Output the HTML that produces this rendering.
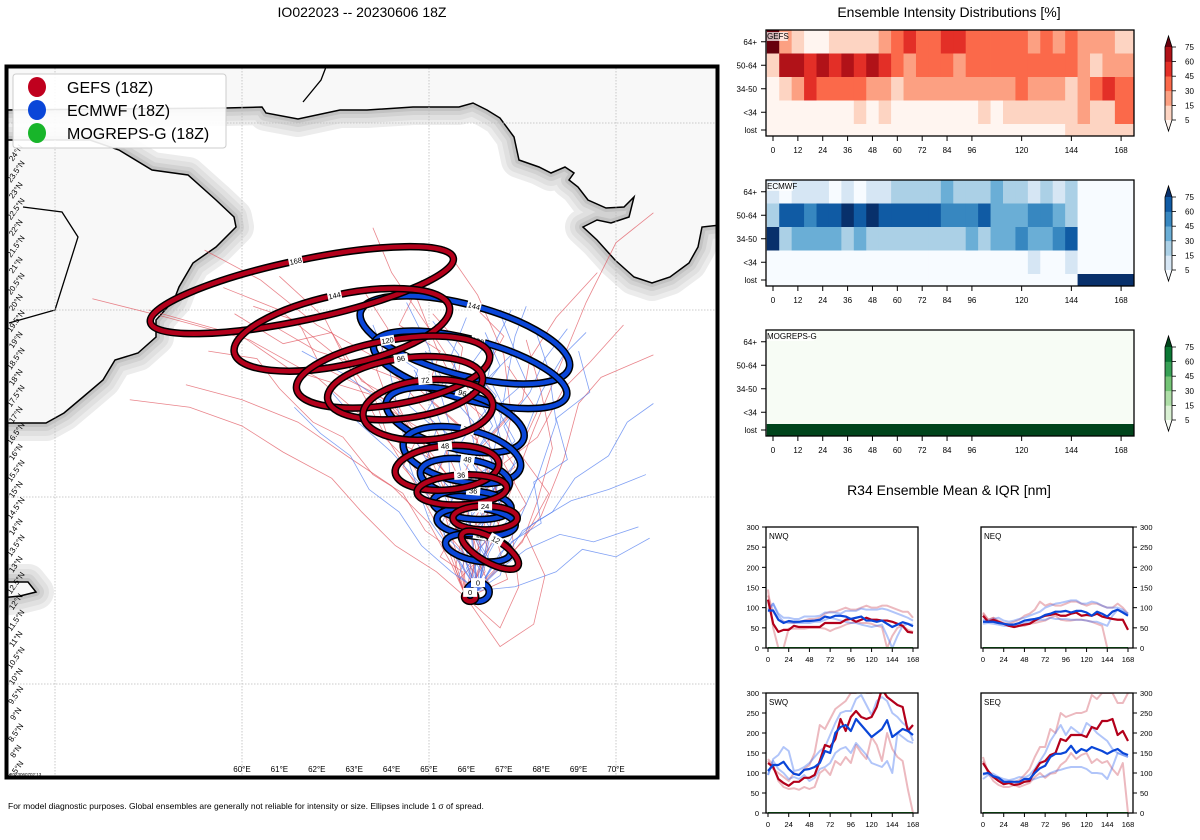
<!DOCTYPE html>
<html><head><meta charset="utf-8"><style>
html,body{margin:0;padding:0;background:#fff;}
svg{display:block;font-family:"Liberation Sans","DejaVu Sans",sans-serif;}
</style></head><body>
<svg id="root" width="1200" height="840" viewBox="0 0 1200 840" xmlns="http://www.w3.org/2000/svg">
<text x="362" y="17" font-size="14" text-anchor="middle">IO022023 -- 20230606 18Z</text>
<text x="949" y="17" font-size="14" text-anchor="middle">Ensemble Intensity Distributions [%]</text>
<text x="949" y="495" font-size="14" text-anchor="middle">R34 Ensemble Mean &amp; IQR [nm]</text>
<text x="8" y="809" font-size="8.5">For model diagnostic purposes. Global ensembles are generally not reliable for intensity or size. Ellipses include 1 σ of spread.</text>
<g id="map"></g>
<g id="heat"></g>
<g id="r34"></g>
</svg>
<script>
const NS='http://www.w3.org/2000/svg';
function mk(tag,attrs,parent,txt){const e=document.createElementNS(NS,tag);for(const k in attrs)e.setAttribute(k,attrs[k]);if(txt!==undefined)e.textContent=txt;parent.appendChild(e);return e;}

/* ================= MAP DATA ================= */
const gefsTracks=[
 [[66.0,12.3],[65.8,13.3],[65.4,14.6],[64.6,15.8],[63.4,17.0],[62.0,18.2],[60.2,19.2],[58.0,19.8],[56.0,20.3]],
 [[66.0,12.3],[66.3,13.4],[66.0,14.8],[65.2,16.0],[64.0,17.4],[62.5,18.8],[61.0,20.0],[59.5,20.6]],
 [[66.0,12.3],[66.5,13.5],[66.8,15.0],[66.6,16.5],[66.0,18.0],[65.0,19.5],[64.0,21.0],[63.5,22.2]],
 [[66.0,12.3],[66.6,13.6],[67.2,15.2],[67.8,16.8],[68.5,18.5],[69.2,20.2],[70.0,21.8],[71.0,22.6]],
 [[66.0,12.3],[65.6,13.2],[65.0,14.3],[64.0,15.3],[62.8,16.1],[61.5,17.0],[60.0,17.6],[58.5,18.0]],
 [[66.0,12.3],[66.2,13.8],[65.8,15.5],[65.0,17.2],[63.8,18.6],[62.0,19.6],[60.5,20.8],[59.0,21.6]],
 [[66.0,12.3],[67.0,13.2],[68.0,14.5],[68.6,16.0],[69.0,17.5],[69.6,18.2],[71.0,18.8]],
 [[66.0,12.3],[66.4,14.0],[66.9,15.6],[67.2,17.2],[67.0,18.8],[66.3,20.4],[65.4,21.7]],
 [[66.0,12.3],[65.9,13.5],[65.5,15.0],[64.8,16.6],[63.9,17.6],[62.6,18.0],[61.3,18.4],[60.0,19.3],[57.5,20.0]],
 [[66.0,12.3],[66.7,13.0],[67.5,13.8],[67.9,14.9],[68.3,16.3],[68.0,17.8],[67.6,19.2]],
 [[66.0,12.3],[65.4,13.9],[64.6,15.4],[63.8,16.7],[63.0,18.2],[62.2,19.8],[61.0,20.9]],
 [[66.0,12.3],[66.9,11.5],[67.4,12.6],[67.2,14.2],[66.5,15.9],[65.9,17.6],[65.2,19.0],[64.6,20.5]],
 [[66.0,12.3],[65.7,13.1],[65.9,14.0],[65.2,14.7],[65.5,15.6],[64.7,16.4],[64.1,17.6],[63.2,18.1],[62.4,19.4],[61.1,19.1],[59.8,19.9]],
 [[66.0,12.3],[66.2,13.2],[65.6,13.9],[66.1,14.9],[65.3,15.8],[65.8,16.9],[64.9,17.7],[65.3,18.9],[64.2,19.6],[64.8,20.8]],
 [[66.0,12.3],[66.5,13.0],[66.2,14.1],[66.9,15.0],[66.3,16.2],[67.1,17.1],[66.4,18.2],[67.0,19.3],[66.2,20.1]],
 [[66.0,12.3],[65.2,13.0],[64.1,13.7],[63.2,14.6],[62.4,15.5],[61.1,16.2],[60.0,16.9],[58.6,17.4],[57.0,17.6]],
 [[66.0,12.3],[66.3,12.9],[65.5,13.8],[65.9,14.5],[64.8,15.2],[65.1,16.0],[63.9,16.6],[63.5,17.8],[62.1,18.5],[61.5,19.7],[60.3,20.1]],
 [[66.0,12.3],[67.1,12.8],[66.8,13.9],[67.6,14.8],[67.0,15.9],[67.9,16.6],[68.6,17.9],[69.3,18.6],[70.2,19.6]],
 [[66.0,12.3],[66.4,13.1],[66.0,13.9],[66.6,14.8],[65.9,15.5],[66.3,16.5],[65.5,17.2],[64.6,18.0],[63.3,18.5],[62.0,18.9],[60.8,19.6]],
 [[66.0,12.3],[65.8,12.8],[66.6,13.6],[66.2,14.4],[66.8,15.3],[66.1,16.0],[66.5,17.1],[65.7,17.8],[65.9,19.0],[65.1,19.9]],
 [[66.0,12.3],[66.9,11.0],[67.8,11.6],[68.1,12.9],[67.6,14.0],[68.2,15.1],[67.4,16.2],[67.9,17.3],[67.1,18.5]],
 [[66.0,12.3],[65.6,13.6],[64.9,14.1],[64.3,15.1],[63.5,15.6],[62.7,16.6],[61.9,17.0],[61.0,17.9],[60.4,18.7],[59.1,18.9]],
 [[66.0,12.3],[66.6,12.7],[66.2,13.5],[66.9,14.2],[66.4,15.1],[67.3,15.8],[66.7,16.7],[67.5,17.6],[67.7,18.7],[68.4,19.8],[69.5,21.0]],
 [[66.0,12.3],[65.9,13.0],[65.3,13.4],[65.8,14.3],[65.0,15.0],[64.3,15.8],[64.8,16.8],[64.0,17.3],[63.6,18.4],[63.9,19.5],[63.2,20.6]]
];
const ecmwfTracks=[
 [[66.3,12.5],[66.2,13.6],[66.0,15.0],[65.7,16.4],[65.3,17.8],[65.0,19.0],[64.4,20.2]],
 [[66.3,12.5],[66.6,13.8],[67.0,15.2],[67.5,16.5],[68.0,17.8],[68.6,18.8],[69.2,19.4]],
 [[66.3,12.5],[65.9,13.9],[65.3,15.3],[64.6,16.6],[63.7,17.6],[62.7,18.3],[61.6,18.9]],
 [[66.3,12.5],[66.9,13.5],[67.8,14.3],[68.8,14.9],[69.8,15.2],[70.8,15.6]],
 [[66.3,12.5],[66.4,14.0],[66.6,15.6],[66.9,17.0],[67.1,18.2],[67.3,19.3],[67.6,20.1]],
 [[66.3,12.5],[65.7,13.4],[65.0,14.4],[64.5,15.8],[64.2,17.2],[63.9,18.6],[63.5,19.6]],
 [[66.3,12.5],[66.8,13.0],[67.6,13.6],[68.5,14.0],[69.4,13.8],[70.6,14.2]],
 [[66.3,12.5],[66.1,14.2],[66.3,15.9],[66.0,17.5],[65.6,18.8],[66.0,19.8]],
 [[66.3,12.5],[67.2,13.9],[67.9,15.5],[68.4,17.0],[68.2,18.4],[67.8,19.6]],
 [[66.3,12.5],[65.5,13.8],[64.9,15.2],[64.0,16.2],[63.1,17.0],[62.4,17.8]],
 [[66.3,12.5],[66.7,14.6],[67.0,16.3],[66.5,17.9],[66.8,19.2],[67.2,20.0]],
 [[66.3,12.5],[66.0,13.2],[65.6,14.8],[65.5,16.5],[65.1,17.5],[64.6,18.4]],
 [[66.3,12.5],[66.0,13.1],[66.5,13.8],[65.8,14.6],[66.4,15.3],[65.7,16.2],[66.2,17.0],[65.4,17.9],[65.8,18.8],[65.1,19.7]],
 [[66.3,12.5],[66.7,13.2],[66.2,14.0],[66.9,14.8],[66.5,15.7],[67.3,16.5],[66.8,17.4],[67.6,18.1],[67.2,19.0]],
 [[66.3,12.5],[65.8,12.9],[66.1,13.7],[65.3,14.2],[65.7,15.1],[64.9,15.9],[65.2,16.8],[64.4,17.5],[64.7,18.4],[63.8,19.0]],
 [[66.3,12.5],[66.9,12.9],[67.2,13.8],[68.0,14.3],[67.8,15.4],[68.7,16.0],[68.4,17.1],[69.3,17.8],[69.0,18.9]],
 [[66.3,12.5],[66.5,13.4],[66.0,14.3],[66.6,15.1],[66.1,16.0],[66.7,16.9],[66.3,17.7],[66.9,18.5],[66.5,19.4]],
 [[66.3,12.5],[65.9,13.5],[65.4,14.0],[65.9,14.9],[65.2,15.6],[65.6,16.6],[64.9,17.2],[65.4,18.1],[64.9,18.9]],
 [[66.3,12.5],[67.0,13.3],[67.5,14.1],[68.3,14.6],[68.9,15.5],[69.8,16.1],[70.3,17.0],[71.0,17.5]],
 [[66.3,12.5],[66.2,13.1],[66.8,13.9],[66.3,14.7],[67.0,15.5],[66.4,16.4],[67.1,17.2],[66.6,18.2],[67.3,18.9],[66.9,19.9]],
 [[66.3,12.5],[65.6,13.0],[64.8,13.7],[64.2,14.6],[63.4,15.2],[62.9,16.1],[62.1,16.7],[61.4,17.4]],
 [[66.3,12.5],[66.4,13.0],[65.9,13.8],[66.6,14.5],[66.0,15.4],[66.9,16.0],[66.2,16.9],[66.8,17.7],[66.1,18.5],[66.6,19.2]],
 [[66.3,12.5],[67.3,12.6],[68.4,13.0],[69.1,13.6],[70.0,13.4],[70.9,13.9]],
 [[66.3,12.5],[66.6,13.5],[67.1,14.4],[66.7,15.2],[67.4,16.0],[67.0,16.9],[67.7,17.8],[68.1,18.7],[68.7,19.5]]
];
const gefsEllLabel=[168,144,120,96,72,48,36,24,12,0];
const gefsEllLon=[61.60,62.67,64.04,64.36,64.97,65.48,65.88,66.50,66.63,66.10];
const gefsEllLat=[20.53,19.47,18.34,17.91,17.33,15.78,15.19,14.44,13.58,12.33];
const gefsEllA=[4.14,2.94,2.62,2.09,1.74,1.39,1.20,0.86,0.86,0.15];
const gefsEllB=[0.80,0.94,0.86,0.80,0.80,0.59,0.40,0.32,0.32,0.12];
const gefsEllRot=[-12,-12,-10,-8,-5,-5,-3,0,30,0];
const ecEllLabel=[144,120,96,72,48,36,24,12,0];
const ecEllLon=[65.96,66.10,65.70,65.88,65.96,66.15,66.26,66.31,66.31];
const ecEllLat=[19.20,18.40,17.06,16.12,15.51,14.79,14.33,13.64,12.46];
const ecEllA=[2.89,2.67,1.90,1.60,1.20,1.05,1.05,0.88,0.30];
const ecEllB=[0.94,0.80,0.75,0.70,0.50,0.38,0.38,0.35,0.25];
const ecEllRot=[15,15,15,12,8,5,5,10,0];

/* ================= HEATMAP DATA ================= */
const hmRows=['64+','50-64','34-50','<34','lost'];
const hmHours=[0,6,12,18,24,30,36,42,48,54,60,66,72,78,84,90,96,102,108,114,120,126,132,138,144,150,156,162,168];
const hmTicks=[0,12,24,36,48,60,72,84,96,120,144,168];
const cbTicks=[75,60,45,30,15,5];
const gefsLev=[
 [6,2,1,0,0,1,1,1,1,2,3,4,3,3,4,4,3,3,3,3,3,2,3,2,3,2,2,2,1],
 [1,5,5,4,5,4,5,4,5,4,3,2,3,3,3,2,3,3,3,3,3,3,3,3,3,2,1,2,2],
 [0,1,2,4,3,3,3,3,2,2,1,2,2,2,2,2,2,2,2,2,3,2,2,2,1,2,3,4,3],
 [0,0,0,0,0,0,0,1,0,1,0,0,0,0,0,0,0,1,0,1,1,1,1,1,1,2,1,1,3],
 [0,0,0,0,0,0,0,0,0,0,0,0,0,0,0,0,0,0,0,0,0,0,0,0,1,1,1,1,1]];
const ecLev=[
 [1,0,1,1,1,0,1,0,1,1,2,2,2,2,3,2,2,2,3,2,2,1,2,1,2,0,0,0,0],
 [2,5,5,4,5,5,6,5,6,5,5,5,5,5,4,4,4,5,3,3,3,4,4,3,2,0,0,0,0],
 [6,2,3,3,3,3,2,3,2,2,2,2,2,2,2,2,3,2,3,3,4,3,3,4,5,0,0,0,0],
 [0,0,0,0,0,0,0,0,0,0,0,0,0,0,0,0,0,0,0,0,0,1,0,0,1,0,0,0,0],
 [0,0,0,0,0,0,0,0,0,0,0,0,0,0,0,0,0,0,0,0,0,0,0,0,0,6,6,6,6]];
const mogLev=[
 [0,0,0,0,0,0,0,0,0,0,0,0,0,0,0,0,0,0,0,0,0,0,0,0,0,0,0,0,0],
 [0,0,0,0,0,0,0,0,0,0,0,0,0,0,0,0,0,0,0,0,0,0,0,0,0,0,0,0,0],
 [0,0,0,0,0,0,0,0,0,0,0,0,0,0,0,0,0,0,0,0,0,0,0,0,0,0,0,0,0],
 [0,0,0,0,0,0,0,0,0,0,0,0,0,0,0,0,0,0,0,0,0,0,0,0,0,0,0,0,0],
 [6,6,6,6,6,6,6,6,6,6,6,6,6,6,6,6,6,6,6,6,6,6,6,6,6,6,6,6,6]];

/* ================= R34 DATA ================= */
const r34Hours=[0,6,12,18,24,30,36,42,48,54,60,66,72,78,84,90,96,102,108,114,120,126,132,138,144,150,156,162,168];
const r34Ticks=[0,24,48,72,96,120,144,168];
const r34YTicks=[0,50,100,150,200,250,300];
const nwqGefsMean=[120,60,40,45,45,55,52,52,52,52,52,62,62,62,62,70,72,65,70,75,70,70,68,68,65,60,55,40,38];
const nwqEcMean=[93,93,70,62,67,65,65,67,67,68,70,78,75,80,80,78,72,75,78,68,68,65,68,60,52,58,64,60,54];
const nwqGefsLo=[145,50,0,0,48,48,48,48,50,50,50,48,42,48,52,58,62,65,62,62,60,55,52,0,30,50,55,45,40];
const nwqGefsHi=[130,90,70,65,65,62,65,68,72,72,75,85,90,90,95,100,95,95,100,105,100,100,105,105,100,95,90,90,75];
const nwqEcLo=[90,110,80,65,62,62,62,62,62,65,65,70,75,72,68,65,62,62,58,55,52,55,58,30,0,30,55,60,58];
const nwqEcHi=[95,110,85,75,75,72,72,78,78,78,80,88,88,88,85,92,92,92,98,95,95,95,98,95,90,85,80,75,68];
const neqGefsMean=[80,65,70,65,60,55,52,55,58,60,68,75,80,82,85,80,80,85,88,80,82,80,85,78,75,72,70,70,45];
const neqEcMean=[65,65,65,62,60,58,58,62,68,70,72,75,82,85,90,90,92,88,92,92,88,80,90,85,78,90,95,88,80];
const neqGefsLo=[85,70,75,65,60,55,52,55,55,60,62,65,68,75,80,70,68,68,70,70,68,65,60,55,0,0,0,0,0];
const neqGefsHi=[88,70,75,68,62,60,65,70,80,85,95,115,105,110,105,105,110,115,115,110,105,110,110,105,100,100,110,100,85];
const neqEcLo=[60,62,60,58,55,55,55,60,62,65,68,70,70,75,72,72,72,70,70,70,68,65,65,60,55,80,95,90,85];
const neqEcHi=[70,68,72,75,68,65,68,72,75,80,85,90,100,105,110,112,115,118,118,110,110,115,112,105,100,100,100,95,85];
const swqGefsMean=[125,115,85,75,68,78,78,88,88,95,130,170,165,185,235,205,240,255,240,235,240,265,310,290,280,270,265,205,220];
const swqEcMean=[105,120,120,128,110,98,95,108,110,115,125,155,150,200,215,220,205,235,220,205,190,200,210,232,190,200,210,205,195];
const swqGefsLo=[135,120,80,65,60,62,58,65,60,65,100,110,95,130,120,140,125,170,150,135,190,170,130,200,160,140,130,60,0];
const swqGefsHi=[130,110,100,90,80,100,95,110,120,150,220,210,235,260,270,280,300,300,310,300,300,310,310,310,310,310,310,310,300];
const swqEcLo=[95,130,110,100,85,90,85,95,80,88,110,115,125,150,160,165,150,175,160,145,125,120,115,130,100,200,190,180,175];
const swqEcHi=[95,135,145,165,155,105,108,115,125,140,155,165,195,225,250,255,255,285,295,270,245,280,290,280,250,240,225,215,180];
const seqGefsMean=[125,105,90,80,72,75,70,72,78,80,105,125,130,145,150,185,180,195,195,195,190,215,210,230,230,235,195,205,180];
const seqEcMean=[98,100,92,88,78,78,78,78,85,85,100,112,118,140,148,148,152,168,150,160,155,165,160,155,148,155,160,150,145];
const seqGefsLo=[140,100,80,70,65,65,70,65,70,75,90,100,88,98,100,120,130,150,135,145,150,125,135,125,130,110,95,125,0];
const seqGefsHi=[130,100,90,85,75,80,78,82,95,110,140,165,165,210,200,250,240,245,250,250,255,295,285,300,300,300,275,275,300];
const seqEcLo=[85,95,90,85,80,75,72,75,78,82,85,90,92,100,105,108,112,115,115,115,110,100,100,98,85,115,150,145,140];
const seqEcHi=[95,100,98,90,85,82,85,90,88,95,110,130,150,180,200,220,195,215,205,195,225,215,200,190,180,160,150,145,140];

/* ================= MAP ================= */
const map=document.getElementById('map');
const px=lon=>242+(lon-60)*37.4;
const py=lat=>497-(lat-15)*37.4;
const defs=mk('defs',{},map);
const cp=mk('clipPath',{id:'mapclip'},defs);
mk('rect',{x:5,y:65,width:713,height:713},cp);
const mg=mk('g',{'clip-path':'url(#mapclip)'},map);
mk('rect',{x:5,y:65,width:713,height:713,fill:'#fff'},mg);
const landTop=[[5,65],[720,65],[720,225],[702,227],[698,247],[689,263],[670,277],[652,283],[634,277],[615,260],[597,240],[583,227],[597,220],[611,223],[629,217],[634,197],[624,207],[606,208],[588,200],[578,187],[569,180],[574,173],[565,167],[551,173],[539,167],[519,160],[514,137],[500,118],[487,110],[473,103],[459,107],[413,107],[367,110],[340,110],[298,119],[266,113],[262,107],[225,108],[5,110]];
const landOman=[[0,140],[90,140],[119,150],[152,170],[188,175],[216,200],[234,217],[236,227],[216,247],[193,263],[179,287],[174,300],[156,320],[156,337],[138,353],[115,360],[103,380],[83,397],[64,413],[46,423],[0,423]];
const landSom=[[0,582],[28,582],[36,592],[20,596],[0,598]];
const lands=[landTop,landOman,landSom];
const ptsStr=a=>a.map(p=>p.join(',')).join(' ');
[[36,'#ececec'],[26,'#e0e0e0'],[16,'#d2d2d2'],[8,'#c2c2c2']].forEach(([w,c])=>{
 lands.forEach(l=>{const e=mk('polygon',{points:ptsStr(l),fill:'none',stroke:c,'stroke-width':w,'stroke-linejoin':'round'},mg);
 
 });
});
lands.forEach((l,i)=>{const e=mk('polygon',{points:ptsStr(l),fill:'#f8f8f8',stroke:'#000','stroke-width':1.5},mg);
 
 });
[[[303,102],[321,80],[326,67]],[[23,207],[62,212],[78,237],[55,310],[9,323]]].forEach(b=>{
 const e=mk('polyline',{points:ptsStr(b),fill:'none',stroke:'#000','stroke-width':1.3},mg);
 
 });
[55,60,65,70].forEach(l=>{const e=mk('line',{x1:px(l),x2:px(l),y1:65,y2:778,stroke:'#bbb','stroke-width':0.8,'stroke-dasharray':'1.5,1.5'},mg);
 
 });
[10,15,20,25].forEach(l=>{const e=mk('line',{x1:5,x2:718,y1:py(l),y2:py(l),stroke:'#bbb','stroke-width':0.8,'stroke-dasharray':'1.5,1.5'},mg);
 
 });
function drawTracks(tracks,col,name){tracks.forEach(t=>{
 const e=mk('polyline',{points:t.map(p=>px(p[0])+','+py(p[1])).join(' '),fill:'none',stroke:col,'stroke-width':0.8,'stroke-opacity':0.7},mg);
 
 });}
drawTracks(gefsTracks,'#e0505a','gefs-member-track');
drawTracks(ecmwfTracks,'#4a78f0','ecmwf-member-track');
function drawEll(lon,lat,a,b,rot,lab,col,name){
 const cx=px(lon),cy=py(lat),rx=a*37.4,ry=b*37.4;
 const g=mk('g',{transform:`rotate(${rot} ${cx} ${cy})`},mg);
 
 
 mk('ellipse',{cx,cy,rx,ry,fill:'none',stroke:'#000','stroke-width':7.5},g);
 mk('ellipse',{cx,cy,rx,ry,fill:'none',stroke:col,'stroke-width':4.5},g);
 const lx=cx, ly=cy-ry;
 mk('rect',{x:lx-7,y:ly-4.5,width:14,height:9,fill:'#fff'},g);
 mk('text',{x:lx,y:ly+2.8,'font-size':7.5,'text-anchor':'middle'},g,String(lab));
}
ecEllLabel.forEach((h,i)=>drawEll(ecEllLon[i],ecEllLat[i],ecEllA[i],ecEllB[i],ecEllRot[i],h,'#0a46d8','ecmwf-ellipse-'+h));
gefsEllLabel.forEach((h,i)=>drawEll(gefsEllLon[i],gefsEllLat[i],gefsEllA[i],gefsEllB[i],gefsEllRot[i],h,'#b3001b','gefs-ellipse-'+h));
for(let l=60;l<=70;l++){const e=mk('text',{x:px(l),y:772,'font-size':8,'text-anchor':'middle'},mg,l+'°E');
 
 }
for(let l=7.5;l<=24;l+=0.5){const y=py(l)-6;const e=mk('text',{x:18,y:y,'font-size':8,'text-anchor':'middle',transform:`rotate(-55 18 ${y})`},mg,l+'°N');
 
 }
mk('text',{x:10,y:776,'font-size':4.5},mg,'2023060702:13');
const lg=mk('g',{},mg);


mk('rect',{x:13,y:74,width:213,height:74,rx:3,fill:'#fff','fill-opacity':0.9,stroke:'#ccc'},lg);
[['GEFS (18Z)','#c0001e'],['ECMWF (18Z)','#0a46d8'],['MOGREPS-G (18Z)','#18b52a']].forEach(([t,c],i)=>{
 const y=87+i*23;
 const en=mk('g',{},lg);
 
 
 mk('ellipse',{cx:37,cy:y,rx:9,ry:10,fill:c},en);
 mk('text',{x:67,y:y+6,'font-size':16},en,t);
});
const fr=mk('rect',{x:6.5,y:66.5,width:711,height:711,fill:'none',stroke:'#000','stroke-width':4},map);



/* ================= HEATMAPS ================= */
const heat=document.getElementById('heat');
const reds=['#fff5f0','#fdd4c2','#fca082','#fb694a','#e32f27','#b11218','#67000d'];
const blues=['#f7fbff','#d6e6f4','#abd0e6','#6aaed6','#3787c0','#105ba4','#08306b'];
const greens=['#f7fcf5','#d9f0d3','#aedea7','#74c476','#37a055','#0b7734','#00441b'];
const hx=h=>773+h*2.072;
function heatmap(y0,lev,pal,name,label){
 const g=mk('g',{},heat);
 
 
 const rowY=[0,23.5,47,70.5,94,106];
 hmRows.forEach((r,ri)=>{
  hmHours.forEach((h,ci)=>{
   const x0=Math.max(766,hx(h-3)), x1=(ci===hmHours.length-1)?1134:hx(h+3);
   const c=mk('rect',{x:x0,y:y0+rowY[ri],width:x1-x0+0.4,height:rowY[ri+1]-rowY[ri]+0.4,fill:pal[lev[ri][ci]]},g);
   
   
  });
  const yc=y0+(rowY[ri]+rowY[ri+1])/2;
  mk('line',{x1:761,x2:766,y1:yc,y2:yc,stroke:'#000'},g);
  mk('text',{x:757,y:yc+3,'font-size':8,'text-anchor':'end'},g,r);
 });
 mk('rect',{x:766,y:y0,width:368,height:106,fill:'none',stroke:'#000','stroke-width':1.3},g);
 hmTicks.forEach(t=>{mk('line',{x1:hx(t),x2:hx(t),y1:y0+106,y2:y0+111,stroke:'#000'},g);
  mk('text',{x:hx(t),y:y0+123,'font-size':8,'text-anchor':'middle'},g,String(t));});
 mk('rect',{x:767,y:y0+2,width:label.length*5.2,height:9,fill:'#fff','fill-opacity':0.7},g);
 mk('text',{x:767,y:y0+9,'font-size':8},g,label);
 const cb=mk('g',{},g);
 
 
 const top=y0+17, bot=y0+90, step=(bot-top)/5;
 for(let i=0;i<5;i++) mk('rect',{x:1165,y:bot-(i+1)*step,width:7,height:step+0.3,fill:pal[i+1]},cb);
 mk('polygon',{points:`1165,${top} 1172,${top} 1168.5,${top-11}`,fill:pal[6]},cb);
 mk('polygon',{points:`1165,${bot} 1172,${bot} 1168.5,${bot+11}`,fill:pal[0]},cb);
 mk('polygon',{points:`1165,${top} 1168.5,${top-11} 1172,${top} 1172,${bot} 1168.5,${bot+11} 1165,${bot}`,fill:'none',stroke:'#000','stroke-width':0.8},cb);
 cbTicks.forEach((v,i)=>{const y=top+i*step;
  mk('line',{x1:1172,x2:1176,y1:y,y2:y,stroke:'#000','stroke-width':0.8},cb);
  mk('text',{x:1185,y:y+3,'font-size':8},cb,String(v));});
}
heatmap(30,gefsLev,reds,'gefs-heatmap','GEFS');
heatmap(180,ecLev,blues,'ecmwf-heatmap','ECMWF');
heatmap(330,mogLev,greens,'mogreps-heatmap','MOGREPS-G');

/* ================= R34 ================= */
const r34=document.getElementById('r34');
function panel(x0,y0,w,h,name,label,yRight,gm,em,gl,gh,el,eh){
 const g=mk('g',{},r34);
 
 
 const xs=t=>x0+2+(t)*(w-7)/168, ys=v=>y0+h-v*h/300;
 const cid='clip-'+name;
 const c=mk('clipPath',{id:cid},mk('defs',{},g));
 mk('rect',{x:x0,y:y0,width:w,height:h},c);
 const pg=mk('g',{'clip-path':`url(#${cid})`},g);
 const line=(arr,col,sw,op,nm)=>{const e=mk('polyline',{points:arr.map((v,i)=>xs(r34Hours[i])+','+ys(v)).join(' '),fill:'none',stroke:col,'stroke-width':sw,'stroke-opacity':op,'stroke-linejoin':'round'},pg);
  
  };
 line(gl,'#d0505f',2,0.4,'gefs-iqr-low');line(gh,'#d0505f',2,0.4,'gefs-iqr-high');
 line(el,'#3d6ff0',2,0.4,'ecmwf-iqr-low');line(eh,'#3d6ff0',2,0.4,'ecmwf-iqr-high');
 line(r34Hours.map(()=>0),'#18a02a',2,1,'mogreps-mean');
 line(gm,'#b3001b',2.2,1,'gefs-mean');line(em,'#0a46d8',2.2,1,'ecmwf-mean');
 mk('rect',{x:x0,y:y0,width:w,height:h,fill:'none',stroke:'#000','stroke-width':1.3},g);
 mk('text',{x:x0+3,y:y0+12,'font-size':8},g,label);
 r34Ticks.forEach(t=>{mk('line',{x1:xs(t),x2:xs(t),y1:y0+h,y2:y0+h+4,stroke:'#000'},g);
  mk('text',{x:xs(t),y:y0+h+14,'font-size':7.5,'text-anchor':'middle'},g,String(t));});
 r34YTicks.forEach(v=>{const y=ys(v);
  if(yRight){mk('line',{x1:x0+w,x2:x0+w+4,y1:y,y2:y,stroke:'#000'},g);mk('text',{x:x0+w+7,y:y+3,'font-size':7.5},g,String(v));}
  else{mk('line',{x1:x0-4,x2:x0,y1:y,y2:y,stroke:'#000'},g);mk('text',{x:x0-7,y:y+3,'font-size':7.5,'text-anchor':'end'},g,String(v));}
 });
}
panel(766,527,152,121,'nwq-panel','NWQ',false,nwqGefsMean,nwqEcMean,nwqGefsLo,nwqGefsHi,nwqEcLo,nwqEcHi);
panel(981,527,152,121,'neq-panel','NEQ',true,neqGefsMean,neqEcMean,neqGefsLo,neqGefsHi,neqEcLo,neqEcHi);
panel(766,693,152,120,'swq-panel','SWQ',false,swqGefsMean,swqEcMean,swqGefsLo,swqGefsHi,swqEcLo,swqEcHi);
panel(981,693,152,120,'seq-panel','SEQ',true,seqGefsMean,seqEcMean,seqGefsLo,seqGefsHi,seqEcLo,seqEcHi);
</script>
</body></html>
